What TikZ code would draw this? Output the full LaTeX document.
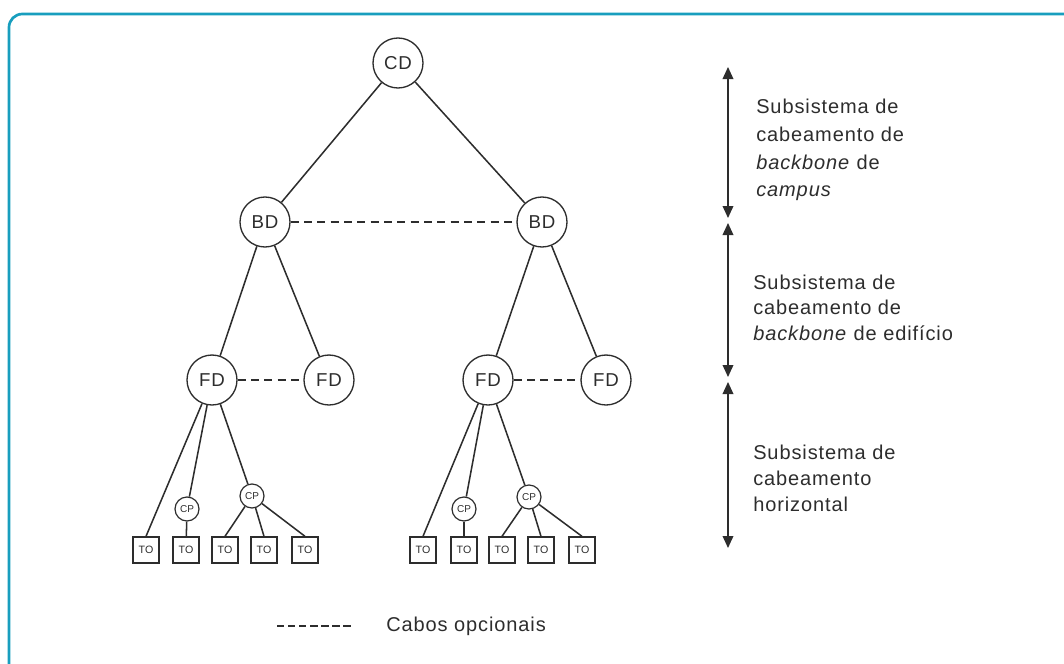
\documentclass[tikz,border=0pt]{standalone}
\usepackage{fontspec}
\setmainfont{Liberation Sans}
\newfontfamily\lblfont[LetterSpace=4.5]{Liberation Sans}
\usetikzlibrary{arrows.meta}
\definecolor{frame}{RGB}{24,158,190}
\definecolor{ink}{RGB}{45,45,45}
\begin{document}
\begin{tikzpicture}[x=0.75pt,y=-0.75pt,
  ln/.style={draw=ink,line width=1.15pt},
  big/.style={circle,draw=ink,line width=1pt,minimum size=37.5pt,inner sep=0pt,font=\lblfont\fontsize{14}{16}\selectfont,text=ink},
  cp/.style={circle,draw=ink,line width=0.9pt,minimum size=18pt,inner sep=0pt,font=\fontsize{7.5}{8}\selectfont,text=ink},
  tobox/.style={rectangle,draw=ink,line width=1pt,minimum size=19.5pt,inner sep=0pt,font=\fontsize{8}{9}\selectfont,text=ink},
  opt/.style={ln,dash pattern=on 6pt off 4pt},
  lbl/.style={anchor=base west,inner sep=0pt,font=\lblfont\fontsize{15}{18}\selectfont,text=ink},
  dimarrow/.style={draw=ink,line width=1.1pt,{Triangle[length=9pt,width=8pt]}-{Triangle[length=9pt,width=8pt]}}
]
\useasboundingbox (0,0) rectangle (1064,664);
\begin{scope}
\clip (0,0) rectangle (1064,664);
\draw[frame,line width=2pt,rounded corners=10pt] (9,14) rectangle (1090,700);
\end{scope}

% tree nodes
\node[big] (cd) at (398,63) {CD};
\node[big] (bd1) at (265,222) {BD};
\node[big] (bd2) at (542,222) {BD};
\node[big] (fd1) at (212,380) {FD};
\node[big] (fd2) at (329,380) {FD};
\node[big] (fd3) at (488,380) {FD};
\node[big] (fd4) at (606,380) {FD};

\node[cp] (cp1) at (187,509) {CP};
\node[cp] (cp2) at (252,496) {CP};
\node[cp] (cp3) at (464,509) {CP};
\node[cp] (cp4) at (529,497) {CP};

\foreach \n/\x in {1/146,2/186,3/225,4/264,5/305,6/423,7/464,8/502,9/541,10/582}
  \node[tobox] (to\n) at (\x,550) {TO};

% connectors
\draw[ln] (cd) -- (bd1);
\draw[ln] (cd) -- (bd2);
\draw[opt] (bd1) -- (bd2);
\draw[ln] (bd1) -- (fd1);
\draw[ln] (bd1) -- (fd2);
\draw[ln] (bd2) -- (fd3);
\draw[ln] (bd2) -- (fd4);
\draw[opt] (fd1) -- (fd2);
\draw[opt] (fd3) -- (fd4);

\draw[ln] (fd1) -- (to1.north);
\draw[ln] (fd1) -- (cp1);
\draw[ln] (fd1) -- (cp2);
\draw[ln] (cp1) -- (to2);
\draw[ln] (cp2) -- (to3.north);
\draw[ln] (cp2) -- (to4.north);
\draw[ln] (cp2) -- (to5.north);

\draw[ln] (fd3) -- (to6.north);
\draw[ln] (fd3) -- (cp3);
\draw[ln] (fd3) -- (cp4);
\draw[ln] (cp3) -- (to7);
\draw[ln] (cp4) -- (to8.north);
\draw[ln] (cp4) -- (to9.north);
\draw[ln] (cp4) -- (to10.north);

% dimension arrows
\coordinate (a1) at (728,67);
\coordinate (a2) at (728,218);
\coordinate (a3) at (728,223);
\coordinate (a4) at (728,377);
\coordinate (a5) at (728,382);
\coordinate (a6) at (728,548);
\draw[dimarrow] (a1) -- (a2);
\draw[dimarrow] (a3) -- (a4);
\draw[dimarrow] (a5) -- (a6);

% labels
\node[lbl] (t11) at (756,113) {Subsistema de};
\node[lbl] (t12) at (756,141) {cabeamento de};
\node[lbl] (t13) at (756,169) {\textit{backbone} de};
\node[lbl] (t14) at (756,196) {\textit{campus}};

\node[lbl] (t21) at (753,289) {Subsistema de};
\node[lbl] (t22) at (753,314) {cabeamento de};
\node[lbl] (t23) at (753,340) {\textit{backbone} de edifício};

\node[lbl] (t31) at (753,459) {Subsistema de};
\node[lbl] (t32) at (753,485) {cabeamento};
\node[lbl] (t33) at (753,511) {horizontal};

% legend
\coordinate (l1) at (277,626);
\coordinate (l2) at (353,626);
\draw[ln,dash pattern=on 5.5pt off 2.8pt] (l1) -- (l2);
\node[lbl] (leg) at (386,631) {Cabos opcionais};
\end{tikzpicture}
\end{document}
